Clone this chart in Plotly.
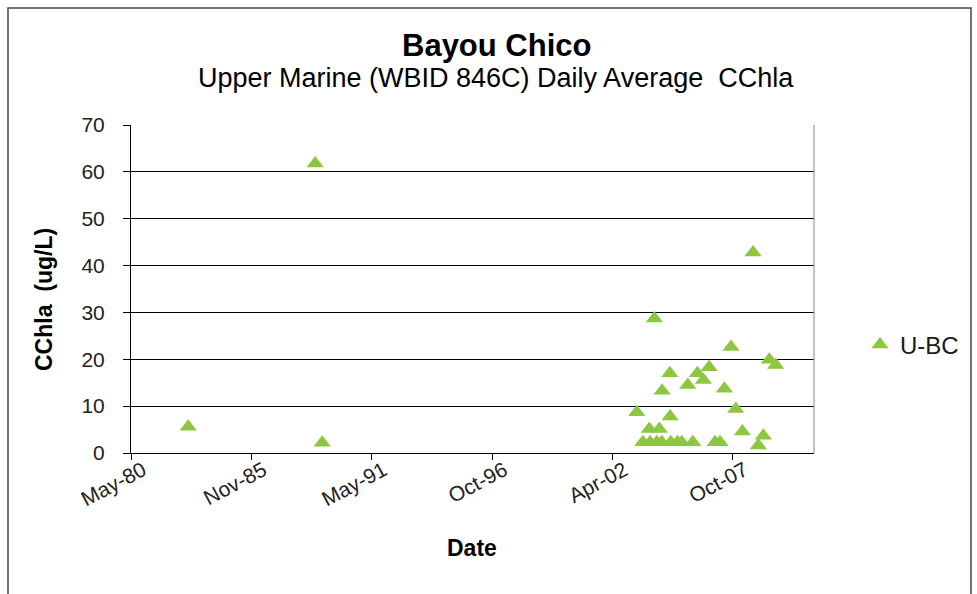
import plotly.graph_objects as go
from datetime import date, timedelta

# ---- data ----
sample_dates = [
    "1982-12-22", "1988-10-01", "1989-01-26",
    "2003-05-20", "2003-08-27", "2003-12-15", "2003-12-27", "2004-03-07",
    "2004-04-16", "2004-05-30", "2004-07-09", "2004-07-14", "2004-11-20",
    "2004-11-24", "2004-12-05", "2005-03-25", "2005-06-06", "2005-09-14",
    "2005-12-06", "2006-02-20", "2006-05-31", "2006-09-03", "2006-12-11",
    "2007-03-04", "2007-05-15", "2007-09-03", "2007-11-20", "2008-03-09",
    "2008-09-02", "2008-11-29", "2009-02-20", "2009-05-31", "2009-09-14",
]
cchla_values = [
    5.6, 61.8, 2.2,
    8.7, 2.3, 5.1, 2.3, 28.7,
    2.3, 5.1, 2.3, 13.3, 17.0,
    7.8, 2.3, 2.3, 2.3, 14.5,
    2.3, 17.0, 15.6, 18.3, 2.3,
    2.3, 13.7, 22.6, 9.4, 4.6,
    42.8, 1.6, 3.7, 19.9, 18.8,
]
x_tick_labels = ["May-80", "Nov-85", "May-91", "Oct-96", "Apr-02", "Oct-07"]
y_tick_values = [0, 10, 20, 30, 40, 50, 60, 70]
series_name = "U-BC"

# ---- axis scale (Excel-style date axis, 2000-day major unit) ----
axis_start = date(1980, 5, 15)
tick_dates = [axis_start + timedelta(days=2000 * k) for k in range(len(x_tick_labels))]
axis_end = axis_start + timedelta(days=11350)

GREEN = "#8dc63f"
FONT = "Liberation Sans, Arial, sans-serif"

fig = go.Figure()
fig.add_trace(go.Scatter(
    x=sample_dates, y=cchla_values, mode="markers", name=series_name,
    marker=dict(symbol="triangle-up", size=15, color=GREEN, line=dict(width=0)),
))

L, R, T, B = 131, 163, 125, 141
W, H = 977, 594
pw, ph = W - L - R, H - T - B

def px_x(p):
    return (p - L) / pw

def px_y(p):
    return (H - B - p) / ph

fig.update_layout(
    width=W, height=H,
    margin=dict(l=L, r=R, t=T, b=B, autoexpand=False),
    paper_bgcolor="white", plot_bgcolor="white",
    font=dict(family=FONT, color="#1a1a1a"),
    showlegend=True,
    legend=dict(x=px_x(860), y=px_y(345), xanchor="left", yanchor="middle",
                font=dict(size=24, family=FONT, color="#1a1a1a"),
                bgcolor="rgba(0,0,0,0)"),
    xaxis=dict(
        type="date", range=[axis_start, axis_end],
        tickmode="array", tickvals=tick_dates, ticktext=x_tick_labels,
        tickangle=-28, tickfont=dict(size=21, family=FONT, color="#222"),
        ticks="outside", ticklen=6, tickcolor="black", tickwidth=1,
        ticklabelshift=12, ticklabelstandoff=-10,
        showline=True, linecolor="black", linewidth=1,
        showgrid=False, zeroline=False, automargin=False,
    ),
    yaxis=dict(
        range=[0, 70], tickmode="array", tickvals=y_tick_values,
        tickfont=dict(size=21, family=FONT, color="#222"),
        ticks="outside", ticklen=7, tickcolor="black", tickwidth=1,
        ticklabelstandoff=14,
        showline=True, linecolor="black", linewidth=1,
        showgrid=True, gridcolor="black", gridwidth=1,
        zeroline=False, automargin=False,
    ),
    annotations=[
        dict(text="<b>Bayou Chico</b>", xref="paper", yref="paper",
             x=px_x(496), y=px_y(45), xanchor="center", yanchor="middle",
             showarrow=False, font=dict(size=31, family=FONT, color="black")),
        dict(text="Upper Marine (WBID 846C) Daily Average  CChla", xref="paper", yref="paper",
             x=px_x(496), y=px_y(78), xanchor="center", yanchor="middle",
             showarrow=False, font=dict(size=27, family=FONT, color="black")),
        dict(text="<b>Date</b>", xref="paper", yref="paper",
             x=px_x(472), y=px_y(548), xanchor="center", yanchor="middle",
             showarrow=False, font=dict(size=23, family=FONT, color="black")),
        dict(text="<b>CChla  (ug/L)</b>", xref="paper", yref="paper",
             x=px_x(44), y=px_y(300), xanchor="center", yanchor="middle",
             textangle=-90, showarrow=False,
             font=dict(size=23, family=FONT, color="black")),
    ],
    shapes=[
        dict(type="rect", xref="paper", yref="paper",
             x0=px_x(8), x1=px_x(971), y0=px_y(600), y1=px_y(8),
             line=dict(color="#444", width=1.5), layer="below"),
        dict(type="line", xref="paper", yref="paper",
             x0=1, x1=1, y0=0, y1=1, line=dict(color="#888", width=1)),
    ],
)

fig.write_html("out.html", config={"displayModeBar": False},
               post_script="document.body.style.margin='0';")
